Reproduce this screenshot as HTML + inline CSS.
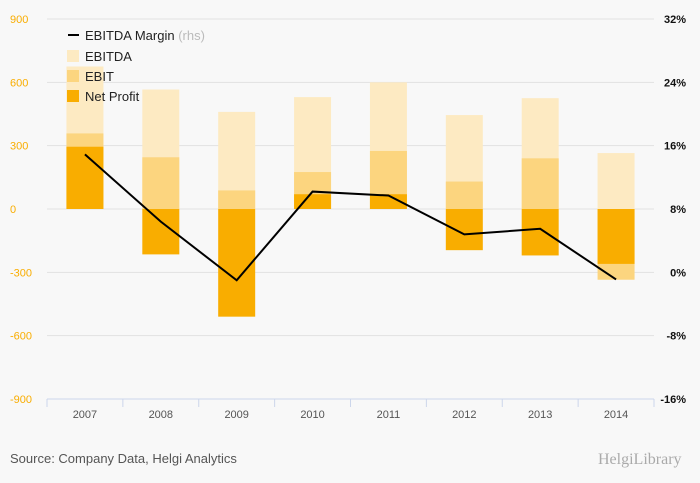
<!DOCTYPE html>
<html><head><meta charset="utf-8"><style>
body{margin:0;background:#f8f8f8;font-family:"Liberation Sans",sans-serif;}
svg{display:block}
</style></head><body>
<svg id="chart" width="700" height="483">
<rect width="700" height="483" fill="#f8f8f8"/>
<g id="grid"></g><g id="bars"></g><g id="line"></g><g id="axes"></g>
<g font-size="13" fill="#222">
<line x1="68" y1="35" x2="79" y2="35" stroke="#000" stroke-width="2"/>
<text x="85" y="40">EBITDA Margin <tspan fill="#bbb">(rhs)</tspan></text>
<rect x="67" y="50" width="12" height="12" fill="#fdeac2"/><text x="85" y="61">EBITDA</text>
<rect x="67" y="70" width="12" height="12" fill="#fcd57f"/><text x="85" y="81">EBIT</text>
<rect x="67" y="90" width="12" height="12" fill="#f9ad00"/><text x="85" y="101">Net Profit</text>
</g>
<text x="10" y="463" font-size="13" fill="#555">Source: Company Data, Helgi Analytics</text>
<text x="598" y="464" font-size="16" fill="#aaa" font-family="Liberation Serif,serif">HelgiLibrary</text>
</svg>
<script>
const categories=["2007","2008","2009","2010","2011","2012","2013","2014"];
const ebitda=[675,566,460,530,600,445,525,265];
const ebit=[358,245,88,175,275,130,240,-335];
const netProfit=[295,-215,-510,70,70,-195,-220,-260];
const margin=[14.9,6.4,-1.0,10.2,9.7,4.8,5.5,-0.9];
const leftTicks=[900,600,300,0,-300,-600,-900];
const rightTicks=["32%","24%","16%","8%","0%","-8%","-16%"];
const NS="http://www.w3.org/2000/svg";
const x0=47,x1=654,yTop=19,yBot=399;
const y=v=>yTop+(900-v)/1800*(yBot-yTop);
const yr=p=>yTop+(32-p)/48*(yBot-yTop);
const bw=(x1-x0)/categories.length;
const xc=i=>x0+bw*(i+0.5);
function mk(t,a,p){const e=document.createElementNS(NS,t);for(const k in a)e.setAttribute(k,a[k]);p.appendChild(e);return e;}
const G=document.getElementById('grid'),B=document.getElementById('bars'),L=document.getElementById('line'),A=document.getElementById('axes');
leftTicks.forEach((v,i)=>{
 const g=mk('line',{x1:x0,x2:x1,y1:y(v),y2:y(v),stroke:'#e2e2e2'},G);
 
 
 const t=mk('text',{x:10,y:y(v)+4,'font-size':11,fill:'#f9ad00'},A);t.textContent=v;
 
 
 const r=mk('text',{x:686,y:y(v)+4,'font-size':11,fill:'#111','text-anchor':'end','font-weight':'bold'},A);r.textContent=rightTicks[i];
 
 
});
mk('line',{x1:x0,x2:x1,y1:yBot,y2:yBot,stroke:'#ccd6eb'},A);
for(let i=0;i<=categories.length;i++){mk('line',{x1:x0+bw*i,x2:x0+bw*i,y1:yBot,y2:yBot+8,stroke:'#ccd6eb'},A);}
categories.forEach((c,i)=>{
 const t=mk('text',{x:xc(i),y:yBot+19,'font-size':11,fill:'#555','text-anchor':'middle'},A);t.textContent=c;
 
 
 [[ebitda,'#fdeac2','bar-ebitda'],[ebit,'#fcd57f','bar-ebit'],[netProfit,'#f9ad00','bar-net-profit']].forEach(([arr,col,nm])=>{
  const v=arr[i],top=Math.min(y(v),y(0)),h=Math.abs(y(v)-y(0));
  const r=mk('rect',{x:xc(i)-18.5,y:top,width:37,height:h,fill:col},B);
  
  
 });
});
const pl=mk('polyline',{points:margin.map((m,i)=>xc(i)+','+yr(m)).join(' '),fill:'none',stroke:'#000','stroke-width':2},L);


</script>
</body></html>
